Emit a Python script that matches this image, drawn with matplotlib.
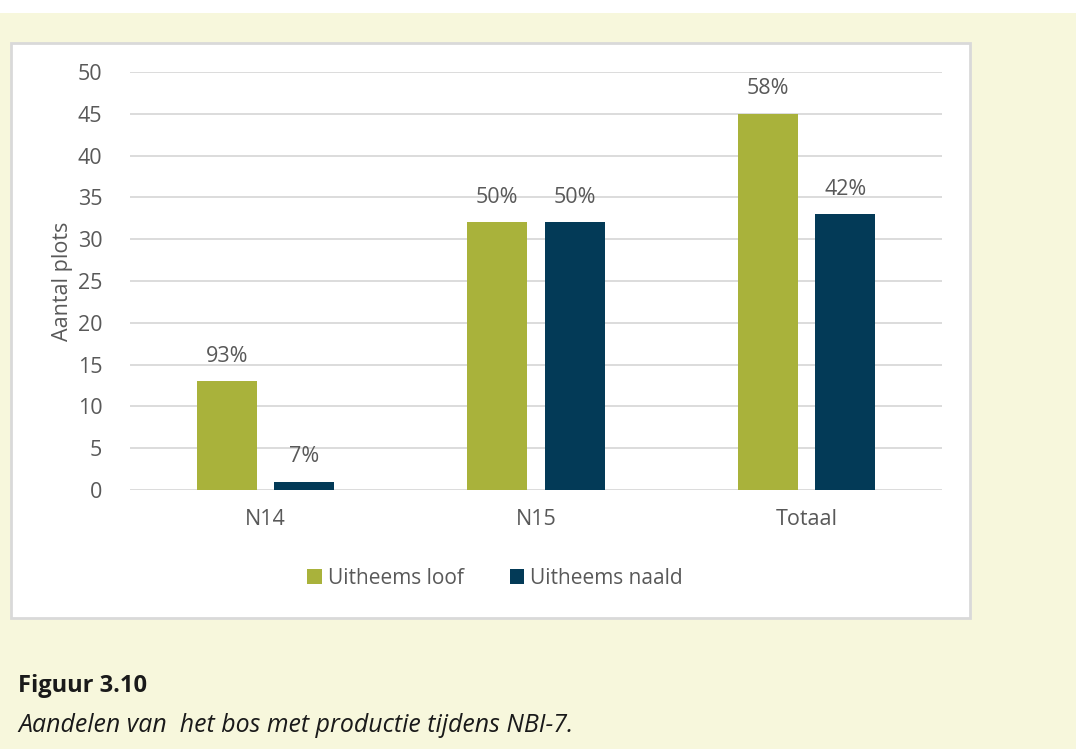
import matplotlib
matplotlib.use("Agg")
import matplotlib.pyplot as plt
from matplotlib.patches import Rectangle
import numpy as np

categories = ["N14", "N15", "Totaal"]
loof = [13, 32, 45]
naald = [1, 32, 33]
loof_pct = ["93%", "50%", "58%"]
naald_pct = ["7%", "50%", "42%"]

GREEN = "#a9b23b"
NAVY = "#033a57"
BEIGE = "#f7f7dc"
TEXT = "#595959"
GRID = "#d9d9d9"

plt.rcParams["font.family"] = ["Open Sans", "DejaVu Sans"]

fig = plt.figure(figsize=(10.76, 7.49), dpi=100)
fig.patch.set_facecolor(BEIGE)
W, H = 1076, 749

# white strip on top and the white chart frame (behind the axes)
fig.patches.append(Rectangle((0, 1 - 13 / H), 1, 13 / H, transform=fig.transFigure,
                             facecolor="white", edgecolor="none", zorder=-2))
fig.patches.append(Rectangle((11 / W, 1 - 618 / H), 959 / W, 575 / H, transform=fig.transFigure,
                             facecolor="white", edgecolor=GRID, linewidth=2, zorder=-2))

ax = fig.add_axes([130 / W, 1 - 490 / H, 812 / W, 418 / H])
ax.patch.set_alpha(0)

x = np.arange(len(categories))
w = 0.222
off = 0.143
b1 = ax.bar(x - off, loof, w, color=GREEN, label="Uitheems loof", zorder=3)
b2 = ax.bar(x + off, naald, w, color=NAVY, label="Uitheems naald", zorder=3)

for bars, labels in ((b1, loof_pct), (b2, naald_pct)):
    for bar, lab in zip(bars, labels):
        ax.annotate(lab, (bar.get_x() + bar.get_width() / 2, bar.get_height()),
                    xytext=(0, 18), textcoords="offset points", ha="center", va="center",
                    fontsize=15.5, color=TEXT)

ax.set_xlim(-0.5, 2.5)
ax.set_ylim(0, 50)
ax.set_yticks(range(0, 51, 5))
ax.set_xticks(x)
ax.set_xticklabels(categories)
ax.tick_params(axis="both", length=0, labelsize=15.5, colors=TEXT)
ax.tick_params(axis="x", pad=14)
ax.tick_params(axis="y", pad=20)
ax.yaxis.grid(True, color=GRID, linewidth=1.3, zorder=0)
ax.set_axisbelow(True)
for s in ax.spines.values():
    s.set_visible(False)
ax.set_ylabel("Aantal plots", fontsize=15.5, color=TEXT, labelpad=3)

fig.legend(handles=[b1, b2], loc="center", bbox_to_anchor=(495 / W, 1 - 578 / H), ncol=2,
           frameon=False, fontsize=15, labelcolor=TEXT, handlelength=0.7, handleheight=0.7,
           handletextpad=0.3, columnspacing=2.2)

fig.text(18 / W, 1 - 686 / H, "Figuur 3.10", fontsize=17, fontweight="bold",
         color="#1a1a1a", va="center", ha="left")
fig.text(18 / W, 1 - 725 / H, "Aandelen van  het bos met productie tijdens NBI-7.",
         fontsize=17.9, style="italic", color="#1a1a1a", va="center", ha="left")

fig.savefig("out.png", dpi=100, facecolor=fig.get_facecolor())
